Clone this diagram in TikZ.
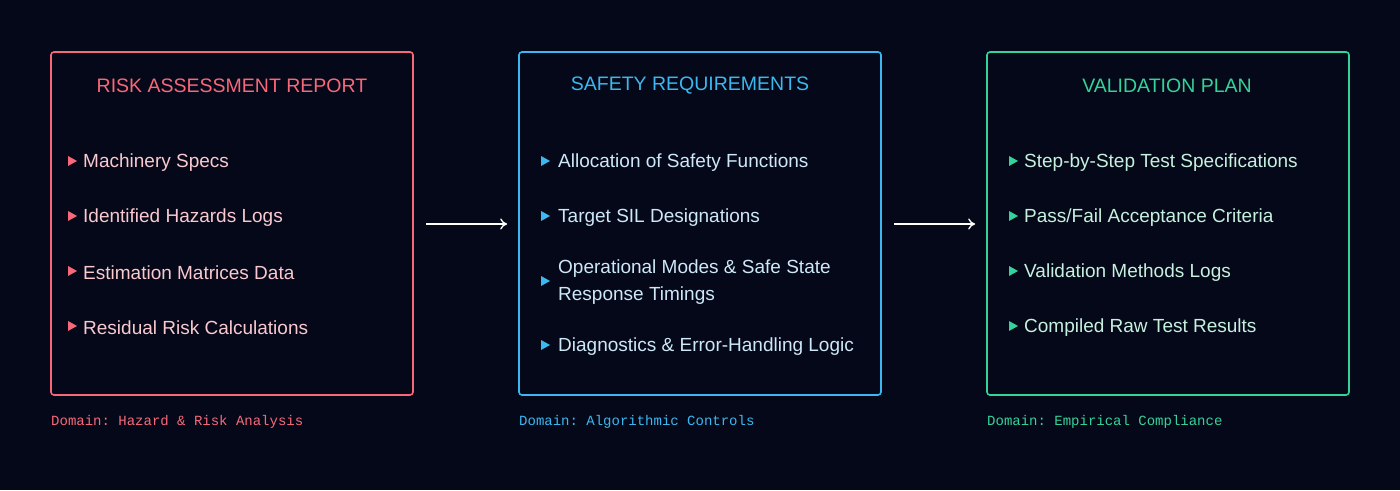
\documentclass[tikz,border=0pt]{standalone}
\usepackage{fontspec}
\setmainfont{Liberation Sans}
\setmonofont{Liberation Mono}
\usetikzlibrary{positioning, arrows.meta}

\definecolor{bg}{HTML}{050818}
\definecolor{riskc}{HTML}{F7687A}
\definecolor{risktxt}{HTML}{F9C9CF}
\definecolor{safec}{HTML}{3BB8F0}
\definecolor{safetxt}{HTML}{CDE8F8}
\definecolor{valc}{HTML}{34D399}
\definecolor{valtxt}{HTML}{C6F1DF}

\tikzset{
    box/.style={draw=#1, line width=1.6pt, rounded corners=3pt, minimum width=362pt, minimum height=343pt, inner sep=0pt},
    title/.style={text=#1, font=\fontsize{19.5}{22}\selectfont},
    item/.style={text=#1, font=\fontsize{19}{27}\selectfont, anchor=west, align=left, inner sep=0pt},
    domain/.style={text=#1, font=\ttfamily\fontsize{14}{16}\selectfont, anchor=west, inner sep=0pt},
    flow/.style={draw=white, line width=1.3pt, -{To[length=7pt,width=11pt]}, shorten <=12pt, shorten >=11pt}
}

\begin{document}
\begin{tikzpicture}[x=1pt, y=1pt]
    \useasboundingbox[fill=bg] (0,0) rectangle (1400,490);

    % boxes
    \node[box=riskc] (risk) at (232,266.5) {};
    \node[box=safec] (safety) at (700,266.5) {};
    \node[box=valc] (valid) at (1168,266.5) {};

    % titles
    \node[title=riskc] (risktitle) at (232,404) {RISK ASSESSMENT REPORT};
    \node[title=safec] (safetitle) at (690,404) {SAFETY REQUIREMENTS};
    \node[title=valc] (valtitle) at (1167,404) {VALIDATION PLAN};

    % risk items
    \path[fill=riskc] (68,334) -- ++(9,-5) -- ++(-9,-5) -- cycle;
    \node[item=risktxt] (r1) at (83,327) {Machinery Specs};
    \path[fill=riskc] (68,279) -- ++(9,-5) -- ++(-9,-5) -- cycle;
    \node[item=risktxt] (r2) at (83,272) {Identified Hazards Logs};
    \path[fill=riskc] (68,224) -- ++(9,-5) -- ++(-9,-5) -- cycle;
    \node[item=risktxt] (r3) at (83,217) {Estimation Matrices Data};
    \path[fill=riskc] (68,169) -- ++(9,-5) -- ++(-9,-5) -- cycle;
    \node[item=risktxt] (r4) at (83,162) {Residual Risk Calculations};

    % safety items
    \path[fill=safec] (541,334) -- ++(9,-5) -- ++(-9,-5) -- cycle;
    \node[item=safetxt] (s1) at (558,327) {Allocation of Safety Functions};
    \path[fill=safec] (541,279) -- ++(9,-5) -- ++(-9,-5) -- cycle;
    \node[item=safetxt] (s2) at (558,272) {Target SIL Designations};
    \path[fill=safec] (541,214) -- ++(9,-5) -- ++(-9,-5) -- cycle;
    \node[item=safetxt] (s3) at (558,208) {Operational Modes \& Safe State\\Response Timings};
    \path[fill=safec] (541,150) -- ++(9,-5) -- ++(-9,-5) -- cycle;
    \node[item=safetxt] (s4) at (558,143) {Diagnostics \& Error-Handling Logic};

    % validation items
    \path[fill=valc] (1009,334) -- ++(9,-5) -- ++(-9,-5) -- cycle;
    \node[item=valtxt] (v1) at (1024,327) {Step-by-Step Test Specifications};
    \path[fill=valc] (1009,279) -- ++(9,-5) -- ++(-9,-5) -- cycle;
    \node[item=valtxt] (v2) at (1024,272) {Pass/Fail Acceptance Criteria};
    \path[fill=valc] (1009,224) -- ++(9,-5) -- ++(-9,-5) -- cycle;
    \node[item=valtxt] (v3) at (1024,217) {Validation Methods Logs};
    \path[fill=valc] (1009,169) -- ++(9,-5) -- ++(-9,-5) -- cycle;
    \node[item=valtxt] (v4) at (1024,162) {Compiled Raw Test Results};

    % domains
    \node[domain=riskc] (rdom) at (51,68) {Domain: Hazard \& Risk Analysis};
    \node[domain=safec] (sdom) at (519,68) {Domain: Algorithmic Controls};
    \node[domain=valc] (vdom) at (987,68) {Domain: Empirical Compliance};

    % flow
    \path[flow] (risk.east |- 0,266) -- (safety.west |- 0,266);
    \path[flow] (safety.east |- 0,266) -- (valid.west |- 0,266);
\end{tikzpicture}
\end{document}
